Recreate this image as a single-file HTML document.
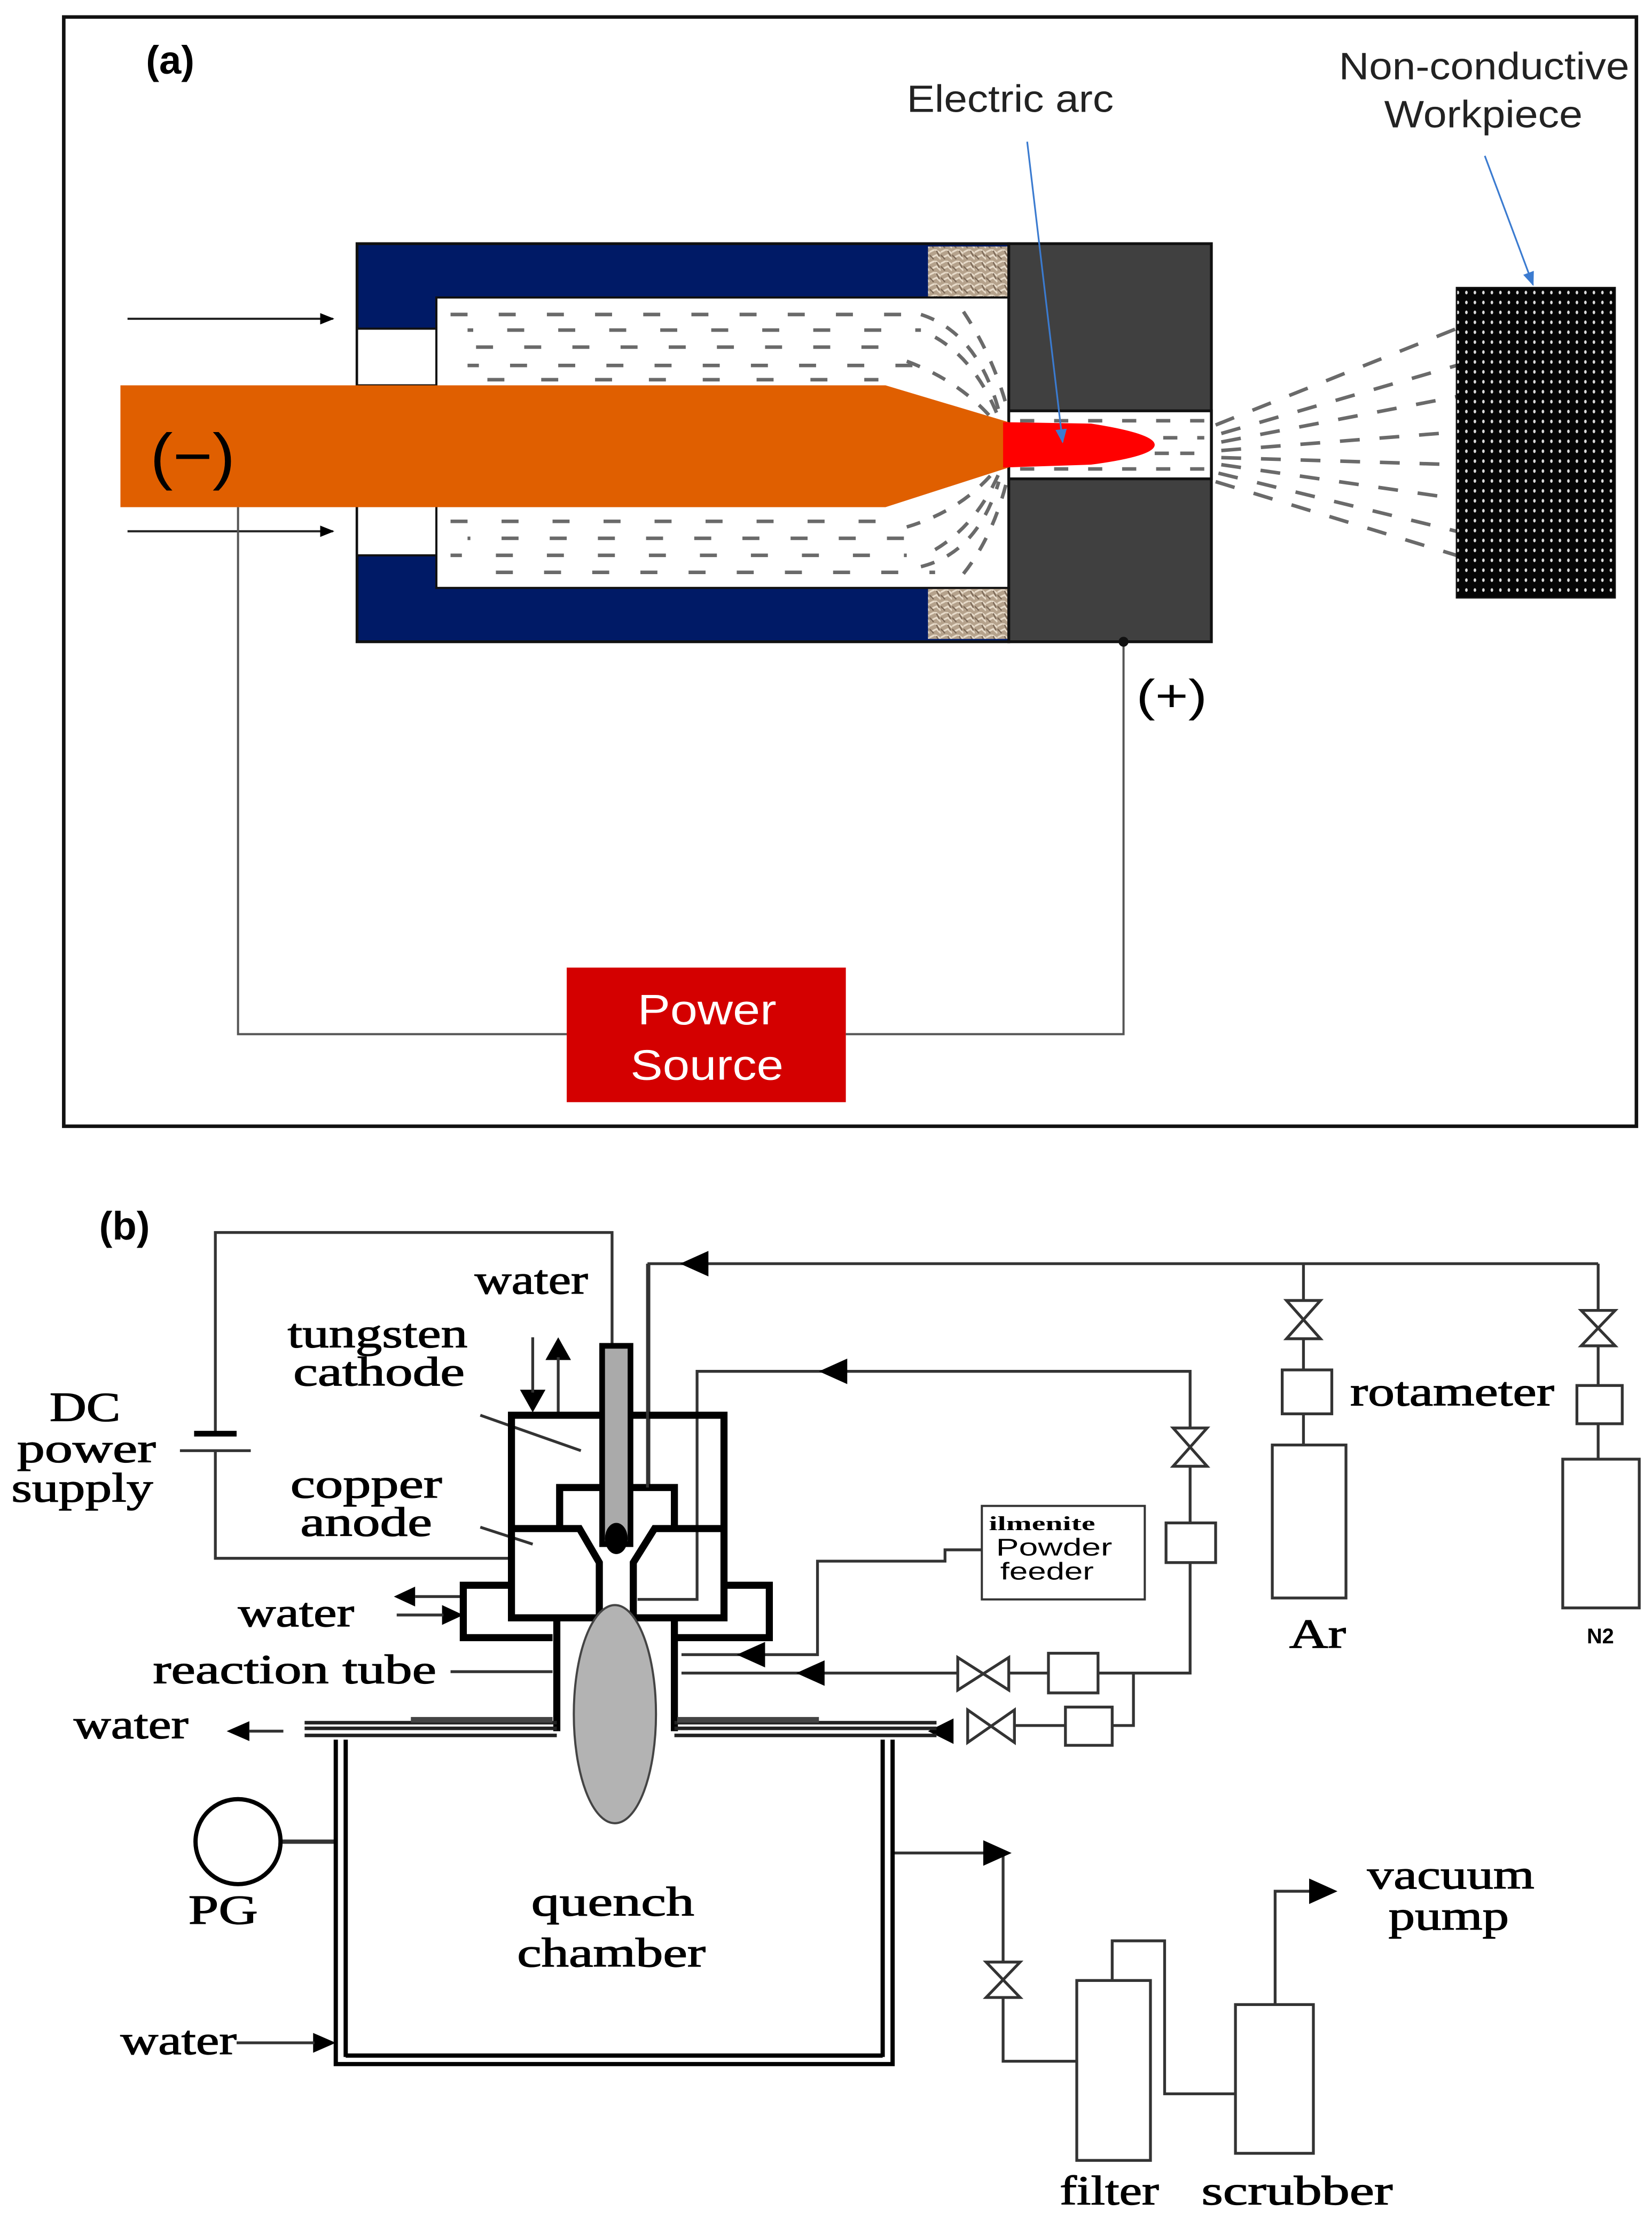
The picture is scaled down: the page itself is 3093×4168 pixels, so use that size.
<!DOCTYPE html>
<html><head><meta charset="utf-8">
<style>html,body{margin:0;padding:0;background:#fff}svg{display:block}</style>
</head><body>
<svg width="3093" height="4168" viewBox="0 0 1166 1571.3" preserveAspectRatio="none" xmlns="http://www.w3.org/2000/svg">
<defs>
<pattern id="dots" width="6" height="7" patternUnits="userSpaceOnUse">
<rect width="6" height="7" fill="#050505"/><ellipse cx="3" cy="3.5" rx="0.9" ry="1.3" fill="#ddd"/>
</pattern>
<pattern id="tex" width="8" height="8" patternUnits="userSpaceOnUse">
<rect width="8" height="8" fill="#b5a28c"/><path d="M0 2 L4 0 L8 3 M1 6 L5 4 L8 7" stroke="#e8dccb" stroke-width="1.2" fill="none"/><path d="M0 4 L3 7 M5 1 L7 5" stroke="#7d6a58" stroke-width="1" fill="none"/>
</pattern>
<marker id="ah" markerWidth="10" markerHeight="10" refX="9" refY="5" orient="auto" markerUnits="userSpaceOnUse"><path d="M0 1 L10 5 L0 9 Z" fill="#000"/></marker>
<marker id="ahb" markerWidth="10" markerHeight="10" refX="9" refY="5" orient="auto" markerUnits="userSpaceOnUse"><path d="M0 1 L10 5 L0 9 Z" fill="#3b7bd0"/></marker>
</defs>

<!-- ===== Panel (a) ===== -->
<rect x="45" y="12" width="1110" height="783" fill="none" stroke="#111" stroke-width="2.5"/>
<text x="103" y="52" font-family="Liberation Sans, sans-serif" font-weight="bold" font-size="28">(a)</text>

<rect x="252" y="172" width="460" height="281" fill="#001a66" stroke="#111" stroke-width="2"/>
<rect x="655" y="174" width="57" height="36" fill="url(#tex)"/>
<rect x="655" y="415" width="57" height="36" fill="url(#tex)"/>
<rect x="308" y="210" width="404" height="205" fill="#fff" stroke="#111" stroke-width="1.5"/>
<rect x="252" y="232" width="56" height="40" fill="#fff" stroke="#111" stroke-width="1.5"/>
<rect x="252" y="357" width="56" height="35" fill="#fff" stroke="#111" stroke-width="1.5"/>
<rect x="712" y="172" width="143" height="281" fill="#404040" stroke="#111" stroke-width="2"/>
<rect x="712" y="290" width="143" height="48" fill="#fff" stroke="#111" stroke-width="2"/>

<g stroke="#6a6a6a" stroke-width="2.5" fill="none">
<line x1="318" y1="222" x2="640" y2="222" stroke-dasharray="12 22"/>
<line x1="330" y1="233" x2="650" y2="233" stroke-dasharray="12 24" stroke-dashoffset="8"/>
<line x1="318" y1="245" x2="640" y2="245" stroke-dasharray="12 22" stroke-dashoffset="16"/>
<line x1="330" y1="258" x2="660" y2="258" stroke-dasharray="12 22" stroke-dashoffset="4"/>
<line x1="318" y1="268" x2="620" y2="268" stroke-dasharray="12 26" stroke-dashoffset="12"/>
<line x1="318" y1="368" x2="620" y2="368" stroke-dasharray="12 24"/>
<line x1="330" y1="380" x2="650" y2="380" stroke-dasharray="12 22" stroke-dashoffset="10"/>
<line x1="318" y1="392" x2="640" y2="392" stroke-dasharray="12 24" stroke-dashoffset="4"/>
<line x1="330" y1="404" x2="660" y2="404" stroke-dasharray="12 22" stroke-dashoffset="14"/>
<path d="M650 222 Q690 235 705 290" stroke-dasharray="10 10"/>
<path d="M660 238 Q690 255 706 298" stroke-dasharray="10 10"/>
<path d="M640 255 Q680 270 704 300" stroke-dasharray="10 10"/>
<path d="M680 220 Q700 250 710 285" stroke-dasharray="10 10"/>
<path d="M650 400 Q690 390 705 340" stroke-dasharray="10 10"/>
<path d="M660 388 Q690 370 706 332" stroke-dasharray="10 10"/>
<path d="M640 372 Q680 360 704 330" stroke-dasharray="10 10"/>
<path d="M680 405 Q700 380 710 342" stroke-dasharray="10 10"/>
<line x1="720" y1="297" x2="850" y2="297" stroke-dasharray="10 14"/>
<line x1="725" y1="309" x2="850" y2="309" stroke-dasharray="10 14"/>
<line x1="815" y1="320" x2="850" y2="320" stroke-dasharray="10 8"/>
<line x1="720" y1="331" x2="850" y2="331" stroke-dasharray="10 14"/>
<line x1="858" y1="300" x2="1028" y2="232" stroke-dasharray="14 14"/>
<line x1="862" y1="306" x2="1028" y2="258" stroke-dasharray="14 14"/>
<line x1="862" y1="312" x2="1028" y2="280" stroke-dasharray="14 14"/>
<line x1="862" y1="318" x2="1028" y2="305" stroke-dasharray="14 14"/>
<line x1="862" y1="323" x2="1028" y2="328" stroke-dasharray="14 14"/>
<line x1="862" y1="328" x2="1028" y2="352" stroke-dasharray="14 14"/>
<line x1="860" y1="334" x2="1028" y2="375" stroke-dasharray="14 14"/>
<line x1="858" y1="340" x2="1028" y2="392" stroke-dasharray="14 14"/>
</g>

<path d="M85 272 L625 272 L712 298 L712 330 L625 358 L85 358 Z" fill="#e05f00"/>
<path d="M708 298 L770 299 Q815 306 815 314 Q815 322 770 328 L708 330 Z" fill="#ff0000"/>
<text x="106" y="337" font-family="Liberation Sans, sans-serif" font-size="44" textLength="60" lengthAdjust="spacingAndGlyphs">(−)</text>

<rect x="1028" y="203" width="112" height="219" fill="url(#dots)" stroke="#111" stroke-width="1"/>

<line x1="90" y1="225" x2="235" y2="225" stroke="#222" stroke-width="1.5" marker-end="url(#ah)"/>
<line x1="90" y1="375" x2="235" y2="375" stroke="#222" stroke-width="1.5" marker-end="url(#ah)"/>

<text x="640" y="79" font-family="Liberation Sans, sans-serif" font-size="27" fill="#222" textLength="146" lengthAdjust="spacingAndGlyphs">Electric arc</text>
<line x1="725" y1="100" x2="750" y2="312" stroke="#3b7bd0" stroke-width="1.2" marker-end="url(#ahb)"/>
<text x="945" y="56" font-family="Liberation Sans, sans-serif" font-size="27" fill="#222" textLength="205" lengthAdjust="spacingAndGlyphs">Non-conductive</text>
<text x="977" y="90" font-family="Liberation Sans, sans-serif" font-size="27" fill="#222" textLength="140" lengthAdjust="spacingAndGlyphs">Workpiece</text>
<line x1="1048" y1="110" x2="1082" y2="201" stroke="#3b7bd0" stroke-width="1.2" marker-end="url(#ahb)"/>

<polyline points="168,358 168,730 400,730" fill="none" stroke="#555" stroke-width="1.5"/>
<polyline points="597,730 793,730 793,453" fill="none" stroke="#555" stroke-width="1.5"/>
<circle cx="793" cy="453" r="3.5" fill="#111"/>
<text x="802" y="502" font-family="Liberation Sans, sans-serif" font-size="32" textLength="50" lengthAdjust="spacingAndGlyphs">(+)</text>
<rect x="400" y="683" width="197" height="95" fill="#d40000"/>
<text x="450" y="723" font-family="Liberation Sans, sans-serif" font-size="30" fill="#fff" textLength="98" lengthAdjust="spacingAndGlyphs">Power</text>
<text x="445" y="762" font-family="Liberation Sans, sans-serif" font-size="30" fill="#fff" textLength="108" lengthAdjust="spacingAndGlyphs">Source</text>

<!-- ===== Panel (b) ===== -->
<text x="70" y="875" font-family="Liberation Sans, sans-serif" font-weight="bold" font-size="28">(b)</text>
<g font-family="Liberation Serif, serif" font-size="29" fill="#000" stroke="#000" stroke-width="0.5" lengthAdjust="spacingAndGlyphs">
<text x="335" y="913" textLength="80" lengthAdjust="spacingAndGlyphs">water</text>
<text x="203" y="951" textLength="127" lengthAdjust="spacingAndGlyphs">tungsten</text>
<text x="207" y="978" textLength="121" lengthAdjust="spacingAndGlyphs">cathode</text>
<text x="35" y="1003" textLength="50" lengthAdjust="spacingAndGlyphs">DC</text>
<text x="12" y="1032" textLength="98" lengthAdjust="spacingAndGlyphs">power</text>
<text x="8" y="1060" textLength="100" lengthAdjust="spacingAndGlyphs">supply</text>
<text x="205" y="1057" textLength="107" lengthAdjust="spacingAndGlyphs">copper</text>
<text x="212" y="1084" textLength="93" lengthAdjust="spacingAndGlyphs">anode</text>
<text x="168" y="1148" textLength="82" lengthAdjust="spacingAndGlyphs">water</text>
<text x="108" y="1188" textLength="200" lengthAdjust="spacingAndGlyphs">reaction tube</text>
<text x="52" y="1227" textLength="81" lengthAdjust="spacingAndGlyphs">water</text>
<text x="133" y="1358" textLength="49" lengthAdjust="spacingAndGlyphs">PG</text>
<text x="375" y="1352" textLength="115" lengthAdjust="spacingAndGlyphs">quench</text>
<text x="365" y="1388" textLength="133" lengthAdjust="spacingAndGlyphs">chamber</text>
<text x="85" y="1450" textLength="82" lengthAdjust="spacingAndGlyphs">water</text>
<text x="953" y="992" textLength="144" lengthAdjust="spacingAndGlyphs">rotameter</text>
<text x="910" y="1163" textLength="40" lengthAdjust="spacingAndGlyphs">Ar</text>
<text x="965" y="1333" textLength="118" lengthAdjust="spacingAndGlyphs">vacuum</text>
<text x="980" y="1362" textLength="85" lengthAdjust="spacingAndGlyphs">pump</text>
<text x="748" y="1556" textLength="70" lengthAdjust="spacingAndGlyphs">filter</text>
<text x="848" y="1556" textLength="135" lengthAdjust="spacingAndGlyphs">scrubber</text>
</g>
<text x="1120" y="1160" font-family="Liberation Sans, sans-serif" font-weight="bold" font-size="15">N2</text>

<g fill="none" stroke="#333" stroke-width="2">
<polyline points="432,950 432,870 152,870 152,1012"/>
<polyline points="152,1024 152,1100 362,1100"/>
<polyline points="1128,892 458,892 458,1050"/>
<polyline points="920,892 920,967"/>
<line x1="920" y1="998" x2="920" y2="1020"/>
<polyline points="1128,892 1128,978"/>
<line x1="1128" y1="1005" x2="1128" y2="1030"/>
<polyline points="450,1129 492,1129 492,968 840,968 840,1075"/>
<polyline points="840,1103 840,1181 775,1181"/>
<polyline points="740,1181 712,1181"/>
<polyline points="676,1181 481,1181"/>
<polyline points="800,1181 800,1218 785,1218"/>
<polyline points="752,1218 716,1218"/>
<polyline points="481,1168 577,1168 577,1102 667,1102 667,1094 693,1094"/>
<line x1="339" y1="999" x2="410" y2="1024"/>
<line x1="339" y1="1078" x2="376" y2="1090"/>
<line x1="318" y1="1180" x2="390" y2="1180"/>
<polyline points="630,1308 708,1308 708,1385"/>
<polyline points="708,1410 708,1455 760,1455"/>
<polyline points="785,1398 785,1370 822,1370 822,1478 872,1478"/>
<polyline points="900,1415 900,1335 935,1335"/>
<line x1="198" y1="1300" x2="237" y2="1300" stroke-width="3"/>
</g>
<line x1="137" y1="1012" x2="167" y2="1012" stroke="#000" stroke-width="4"/>
<line x1="127" y1="1024" x2="177" y2="1024" stroke="#333" stroke-width="2"/>

<g fill="#000">
<path d="M480 892 L500 883 L500 901 Z"/>
<path d="M578 968 L598 959 L598 977 Z"/>
<path d="M520 1168 L540 1159 L540 1177 Z"/>
<path d="M562 1181 L582 1172 L582 1190 Z"/>
<path d="M655 1222 L673 1213 L673 1231 Z"/>
<path d="M714 1308 L694 1299 L694 1317 Z"/>
<path d="M944 1335 L924 1326 L924 1344 Z"/>
<path d="M160 1222 L176 1215 L176 1229 Z"/>
<path d="M237 1442 L221 1435 L221 1449 Z"/>
<path d="M278 1127 L293 1120 L293 1134 Z"/>
<path d="M327 1140 L312 1133 L312 1147 Z"/>
<path d="M376 997 L367 981 L385 981 Z"/>
<path d="M394 944 L385 960 L403 960 Z"/>
</g>
<g stroke="#333" stroke-width="2">
<line x1="176" y1="1222" x2="200" y2="1222"/>
<line x1="167" y1="1442" x2="222" y2="1442"/>
<line x1="293" y1="1127" x2="325" y2="1127"/>
<line x1="280" y1="1140" x2="313" y2="1140"/>
<line x1="376" y1="944" x2="376" y2="983"/>
<line x1="394" y1="958" x2="394" y2="997"/>
</g>

<g fill="#fff" stroke="#333" stroke-width="2">
<path d="M908 918 L932 918 L908 945 L932 945 Z"/>
<path d="M1116 925 L1140 925 L1116 950 L1140 950 Z"/>
<path d="M828 1008 L852 1008 L828 1035 L852 1035 Z"/>
<path d="M676 1170 L676 1193 L712 1170 L712 1193 Z"/>
<path d="M683 1207 L683 1230 L716 1207 L716 1230 Z"/>
<path d="M696 1385 L720 1385 L696 1410 L720 1410 Z"/>
<rect x="905" y="967" width="35" height="31"/>
<rect x="898" y="1020" width="52" height="108"/>
<rect x="1113" y="978" width="32" height="27"/>
<rect x="1103" y="1030" width="54" height="105"/>
<rect x="823" y="1075" width="35" height="28"/>
<rect x="740" y="1167" width="35" height="28"/>
<rect x="752" y="1205" width="33" height="27"/>
<rect x="760" y="1398" width="52" height="127"/>
<rect x="872" y="1415" width="55" height="105"/>
<rect x="693" y="1063" width="115" height="66" stroke-width="1.5"/>
</g>
<text x="698" y="1080" font-family="Liberation Serif, serif" font-weight="bold" font-size="14" textLength="75" lengthAdjust="spacingAndGlyphs">ilmenite</text>
<text x="703" y="1098" font-family="Liberation Sans, sans-serif" font-size="17" textLength="82" lengthAdjust="spacingAndGlyphs">Powder</text>
<text x="706" y="1115" font-family="Liberation Sans, sans-serif" font-size="17" textLength="66" lengthAdjust="spacingAndGlyphs">feeder</text>
<circle cx="168" cy="1300" r="30" fill="#fff" stroke="#000" stroke-width="3"/>

<g fill="none" stroke="#000" stroke-width="5">
<rect x="361" y="999" width="150" height="143"/>
<polyline points="361,1079 409,1079 423,1103 423,1142"/>
<polyline points="511,1079 462,1079 447,1103 447,1142"/>
<polyline points="395,1079 395,1050 476,1050 476,1079"/>
<polyline points="361,1119 327,1119 327,1156 390,1156"/>
<polyline points="511,1119 543,1119 543,1156 476,1156"/>
<line x1="393" y1="1142" x2="393" y2="1222"/>
<line x1="476" y1="1142" x2="476" y2="1222"/>
</g>
<rect x="425" y="950" width="20" height="140" fill="#aaa" stroke="#000" stroke-width="4"/>
<ellipse cx="435" cy="1086" rx="8" ry="11" fill="#000"/>
<line x1="457" y1="1050" x2="457" y2="892" stroke="#333" stroke-width="2"/>
<ellipse cx="434" cy="1210" rx="29" ry="77" fill="#b3b3b3" stroke="#444" stroke-width="1.5"/>

<g stroke="#222" stroke-width="2.5">
<line x1="215" y1="1216" x2="393" y2="1216"/>
<line x1="215" y1="1220" x2="393" y2="1220"/>
<line x1="215" y1="1225" x2="393" y2="1225"/>
<line x1="476" y1="1216" x2="661" y2="1216"/>
<line x1="476" y1="1220" x2="661" y2="1220"/>
<line x1="476" y1="1225" x2="661" y2="1225"/>
</g>
<rect x="290" y="1212" width="100" height="4" fill="#444"/>
<rect x="478" y="1212" width="100" height="4" fill="#444"/>
<g fill="none" stroke="#000" stroke-width="3">
<polyline points="237,1228 237,1457 630,1457 630,1228"/>
<line x1="244" y1="1228" x2="244" y2="1452"/>
<line x1="623" y1="1228" x2="623" y2="1452"/>
<line x1="244" y1="1451" x2="623" y2="1451"/>
</g>
</svg>
</body></html>
